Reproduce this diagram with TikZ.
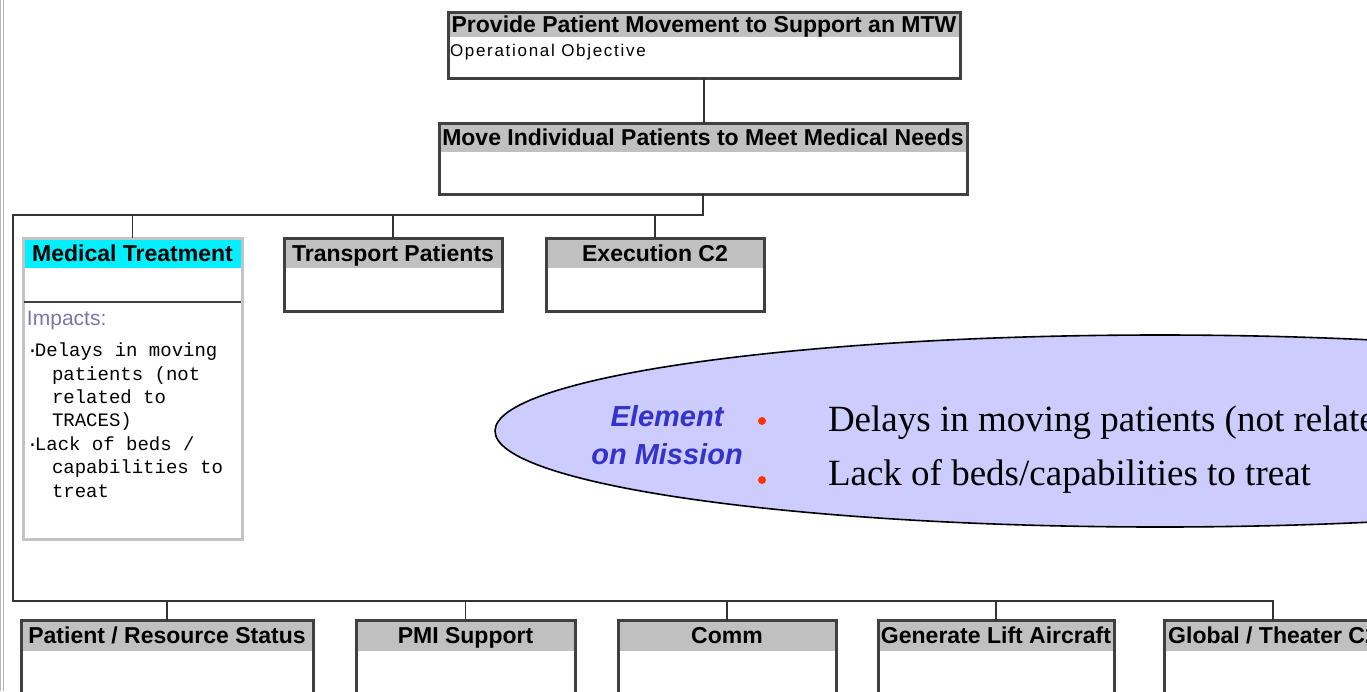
\documentclass[tikz,border=0pt]{standalone}
\usepackage{fontspec}
\setmainfont{Liberation Sans}
\setmonofont{Liberation Mono}
\newfontfamily\serifbody{Liberation Serif}
\newfontfamily\spacedsans[LetterSpace=10]{Liberation Sans}
\usepackage{tikz}
\usetikzlibrary{shapes.geometric}

\definecolor{boxline}{HTML}{404040}
\definecolor{hdrgray}{HTML}{C0C0C0}
\definecolor{hdrcyan}{HTML}{00F0FF}
\definecolor{palegray}{HTML}{C4C4C4}
\definecolor{impactgray}{HTML}{7878A8}
\definecolor{blobfill}{HTML}{CCCCFF}
\definecolor{elemblue}{HTML}{3333CC}
\definecolor{dotred}{HTML}{FF3300}

\begin{document}
\begin{tikzpicture}[x=1pt, y=-1pt,
    every node/.style={inner sep=0pt, outer sep=0pt},
    hdr/.style={fill=#1, anchor=north west, text height=16pt, text depth=0pt,
        font=\fontsize{23}{24}\selectfont\bfseries},
    hdr/.default=hdrgray,
    unit/.style={draw=boxline, line width=3pt, anchor=north west},
    link/.style={draw=black!80, line width=1.8pt}]
    \useasboundingbox (0,0) rectangle (1367,691);
    \clip (0,0) rectangle (1367,691);

    % page edge on the left
    \draw[gray!55, line width=1] (0.5,0) -- (0.5,691);
    \draw[gray!55, line width=1] (3,0) -- (3,691);

    % objective and its task
    \node[hdr, minimum width=512, minimum height=25] (topH) at (448,12) {Provide Patient Movement to Support an MTW};
    \node[unit, minimum width=512, minimum height=66] (top) at (448,12) {};
    \node[anchor=west, font=\spacedsans\fontsize{17}{18}\selectfont] (objective) at (450,52) {Operational Objective};

    \node[hdr, minimum width=528, minimum height=29] (moveH) at (439,123) {Move Individual Patients to Meet Medical Needs};
    \node[unit, minimum width=528, minimum height=71] (move) at (439,123) {};

    % first row
    \node[hdr=hdrcyan, minimum width=219, minimum height=30] (medtxH) at (23,238) {Medical Treatment};
    \node[unit, draw=palegray, minimum width=219, minimum height=301] (medtx) at (23,238) {};
    \draw[boxline, line width=2] (24,302) -- (241,302);
    \node[anchor=west, text=impactgray, font=\fontsize{21}{22}\selectfont] (impacts) at (27,320) {Impacts:};
    \node[anchor=north west, align=left, font=\ttfamily\fontsize{19}{23.4}\selectfont] (impactlist) at (27,343)
        {\makebox[8pt][l]{·}Delays in moving\\
         \hspace*{25pt}patients (not\\
         \hspace*{25pt}related to\\
         \hspace*{25pt}TRACES)\\
         \makebox[8pt][l]{·}Lack of beds /\\
         \hspace*{25pt}capabilities to\\
         \hspace*{25pt}treat};

    \node[hdr, minimum width=218, minimum height=30] (transportH) at (284,238) {Transport Patients};
    \node[unit, minimum width=218, minimum height=73] (transport) at (284,238) {};
    \node[hdr, minimum width=218, minimum height=30] (execH) at (546,238) {Execution C2};
    \node[unit, minimum width=218, minimum height=73] (exec) at (546,238) {};

    % second row
    \node[hdr, minimum width=292, minimum height=31] (statusH) at (21,620) {Patient / Resource Status};
    \node[unit, minimum width=292, minimum height=120] (status) at (21,620) {};
    \node[hdr, minimum width=219, minimum height=31] (pmiH) at (356,620) {PMI Support};
    \node[unit, minimum width=219, minimum height=120] (pmi) at (356,620) {};
    \node[hdr, minimum width=218, minimum height=31] (commH) at (618,620) {Comm};
    \node[unit, minimum width=218, minimum height=120] (comm) at (618,620) {};
    \node[hdr, minimum width=236, minimum height=31] (liftH) at (878,620) {Generate Lift Aircraft};
    \node[unit, minimum width=236, minimum height=120] (lift) at (878,620) {};
    \node[hdr, minimum width=218, minimum height=31] (globalH) at (1164,620) {Global / Theater C2};
    \node[unit, minimum width=218, minimum height=120] (global) at (1164,620) {};

    % tree lines
    \coordinate (busA) at (13,215);
    \coordinate (busB) at (13,601);
    \draw[link] (top.south) -- (top.south |- move.north);
    \draw[link] (move.south) |- (busA) -- (busB) -| (global.north);
    \foreach \n in {medtx,transport,exec}
        \draw[link] (\n.north) -- (\n.north |- busA);
    \foreach \n in {status,pmi,comm,lift}
        \draw[link] (\n.north) -- (\n.north |- busB);

    % callout
    \node[ellipse, draw=black, line width=1.6, fill=blobfill, minimum width=1330, minimum height=192] (blob) at (1160,431) {};
    \node[align=center, text=elemblue, font=\fontsize{29}{38}\selectfont\bfseries\itshape] (elem) at (667,435) {Element\\on Mission};
    \node[circle, fill=dotred, minimum size=8] (dotA) at (762,421) {};
    \node[circle, fill=dotred, minimum size=8] (dotB) at (762,480) {};
    \node[anchor=base west, font=\serifbody\fontsize{37}{40}\selectfont] (effA) at (828,431) {Delays in moving patients (not related};
    \node[anchor=base west, font=\serifbody\fontsize{37}{40}\selectfont] (effB) at (828,485) {Lack of beds/capabilities to treat};
\end{tikzpicture}
\end{document}
